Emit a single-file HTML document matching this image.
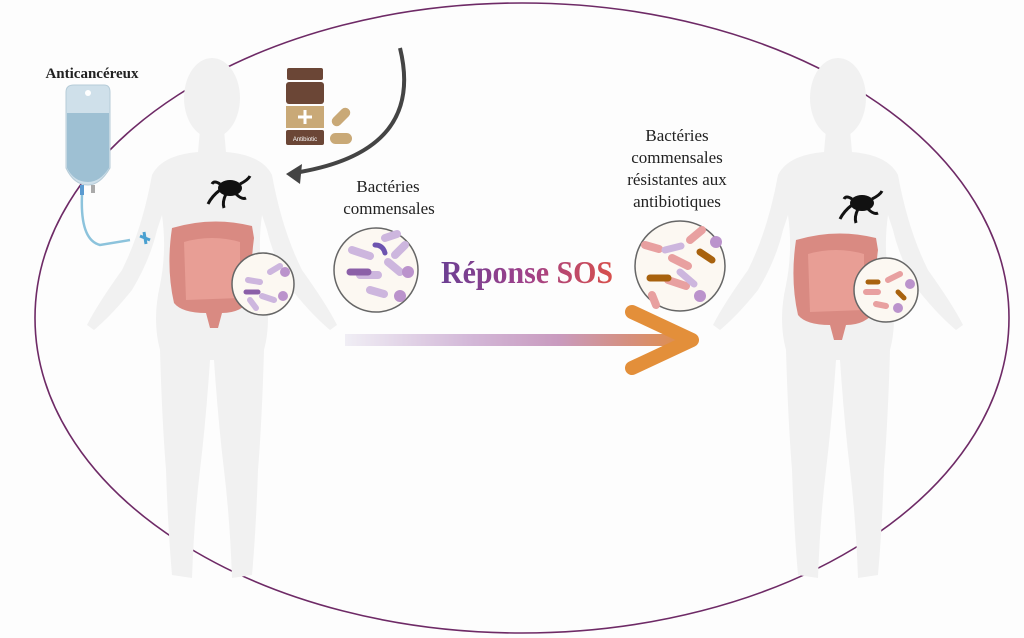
<!DOCTYPE html>
<html><head><meta charset="utf-8"><style>
html,body{margin:0;padding:0;background:#fdfdfd;}
svg{display:block;}
</style></head><body>
<svg width="1024" height="638" viewBox="0 0 1024 638" xmlns="http://www.w3.org/2000/svg">
<defs>
<linearGradient id="ag" x1="345" y1="0" x2="700" y2="0" gradientUnits="userSpaceOnUse">
<stop offset="0" stop-color="#f0eef5"/><stop offset="0.35" stop-color="#d3b8d8"/><stop offset="0.6" stop-color="#c99bbf"/><stop offset="0.8" stop-color="#d58f7e"/><stop offset="1" stop-color="#e38f3a"/>
</linearGradient>
<linearGradient id="tg" x1="440" y1="0" x2="615" y2="0" gradientUnits="userSpaceOnUse">
<stop offset="0" stop-color="#6b3f93"/><stop offset="0.5" stop-color="#a0418a"/><stop offset="1" stop-color="#d9504a"/>
</linearGradient>
<g id="body" fill="#f1f1f1">
<ellipse cx="0" cy="98" rx="28" ry="40"/>
<path d="M-12 130 L12 130 L14 152 Q50 155 60 175 Q70 230 90 270 Q115 305 125 325 L118 330 Q100 315 80 290 Q62 260 55 230 L50 215 Q45 250 52 285 Q60 320 52 350 Q50 420 46 470 Q44 530 40 575 L20 578 Q18 520 12 470 Q6 420 2 360 L-2 360 Q-6 420 -12 470 Q-18 520 -20 578 L-40 575 Q-44 530 -46 470 Q-50 420 -52 350 Q-60 320 -52 285 Q-45 250 -50 215 L-55 230 Q-62 260 -80 290 Q-100 315 -118 330 L-125 325 Q-115 305 -90 270 Q-70 230 -60 175 Q-50 155 -14 152 Z"/>
</g>
<g id="gut">
<path d="M0 0 Q40 -12 80 -2 L82 10 Q78 40 80 70 Q70 85 50 85 L46 100 L38 100 L34 85 Q10 85 2 75 Q-6 40 0 0Z" fill="#d98a82"/>
<path d="M12 14 Q40 6 68 14 L68 70 L14 72Z" fill="#e89e95"/>
</g>
</defs>
<rect width="1024" height="638" fill="#fdfdfd"/>
<ellipse cx="522" cy="318" rx="487" ry="315" fill="none" stroke="#6e2a66" stroke-width="1.6"/>
<use href="#body" x="212"/>
<use href="#body" x="838"/>
<use href="#gut" x="172" y="228"/>
<use href="#gut" x="796" y="240"/>
<g fill="#111"><ellipse cx="230" cy="188" rx="12" ry="8"/><path d="M220 190 q-8 6 -12 14 M226 194 q-4 8 -2 14 M236 194 q6 6 10 4 M240 184 q8 -4 10 -8 M220 184 q-6 -4 -8 0" stroke="#111" stroke-width="3" fill="none"/></g>
<g fill="#111"><ellipse cx="862" cy="203" rx="12" ry="8"/><path d="M852 205 q-8 6 -12 14 M858 209 q-4 8 -2 14 M868 209 q6 6 10 4 M872 199 q8 -4 10 -8 M852 199 q-6 -4 -8 0" stroke="#111" stroke-width="3" fill="none"/></g>
<g stroke="#666" stroke-width="1.5" fill="#fcf8f2">
<circle cx="263" cy="284" r="31"/><circle cx="376" cy="270" r="42"/><circle cx="680" cy="266" r="45"/><circle cx="886" cy="290" r="32"/>
</g>
<g stroke-linecap="round" fill="none">
<path d="M352 250 l18 6 M385 238 l12 -4 M360 275 l18 0 M388 262 l12 10 M370 290 l14 4 M395 255 l10 -10" stroke="#cdb6de" stroke-width="8"/>
<path d="M350 272 l18 0" stroke="#8b5fa8" stroke-width="7"/>
<path d="M375 245 q8 0 10 8" stroke="#6d54b0" stroke-width="5"/>
<circle cx="408" cy="272" r="6" fill="#bb93cc"/><circle cx="400" cy="296" r="6" fill="#bb93cc"/>
<path d="M248 280 l12 2 M270 272 l10 -6 M262 296 l12 4 M250 300 l6 8" stroke="#cdb6de" stroke-width="6"/>
<path d="M246 292 l12 0" stroke="#8b5fa8" stroke-width="5"/>
<circle cx="285" cy="272" r="5" fill="#bb93cc"/><circle cx="283" cy="296" r="5" fill="#bb93cc"/>
<path d="M645 245 l14 4 M672 258 l16 8 M652 295 l4 10 M690 240 l12 -10 M668 280 l18 6" stroke="#e8a0a0" stroke-width="8"/>
<path d="M650 278 l18 0 M700 252 l12 8" stroke="#a8620e" stroke-width="7"/>
<path d="M665 250 l16 -4 M680 272 l14 12" stroke="#cdb6de" stroke-width="7"/>
<circle cx="716" cy="242" r="6" fill="#bb93cc"/><circle cx="700" cy="296" r="6" fill="#bb93cc"/>
<path d="M866 292 l12 0 M888 280 l12 -6 M876 304 l10 2" stroke="#e8a0a0" stroke-width="6"/>
<path d="M868 282 l10 0" stroke="#a8620e" stroke-width="5"/><path d="M898 292 l6 6" stroke="#a8620e" stroke-width="5"/>
<circle cx="910" cy="284" r="5" fill="#bb93cc"/><circle cx="898" cy="308" r="5" fill="#bb93cc"/>
</g>
<path d="M66 92 Q66 85 74 85 L104 85 Q110 85 110 92 L110 168 Q100 185 88 185 Q74 185 66 168Z" fill="#cfe0ea" stroke="#b6ccd8"/>
<path d="M67 113 L109 113 L109 168 Q100 182 88 182 Q74 182 67 168Z" fill="#9ec0d3"/>
<circle cx="88" cy="93" r="3" fill="#fff"/>
<rect x="80" y="185" width="4" height="10" fill="#5a9ad0"/><rect x="91" y="185" width="4" height="8" fill="#aaa"/>
<path d="M82 195 Q80 240 100 245 L130 240" stroke="#8cc3dc" stroke-width="2.5" fill="none"/>
<path d="M140 236 l10 4 M144 232 l2 12" stroke="#4aa0d0" stroke-width="3"/>
<rect x="287" y="68" width="36" height="12" rx="2" fill="#6b4636"/>
<rect x="286" y="82" width="38" height="22" rx="3" fill="#6b4636"/>
<rect x="286" y="106" width="38" height="22" fill="#c9a977"/>
<path d="M305 110 v14 M298 117 h14" stroke="#fff" stroke-width="3"/>
<rect x="286" y="130" width="38" height="15" rx="2" fill="#6b4636"/>
<text x="305" y="141" font-family="Liberation Sans,sans-serif" font-size="6" fill="#fff" text-anchor="middle">Antibiotic</text>
<rect x="330" y="112" width="22" height="10" rx="5" fill="#c9a977" transform="rotate(-45 341 117)"/>
<rect x="330" y="133" width="22" height="11" rx="5.5" fill="#c9a977"/>
<path d="M400 48 Q425 150 300 172" stroke="#444" stroke-width="4" fill="none"/>
<path d="M286 174 L302 164 L300 184Z" fill="#444"/>
<rect x="345" y="334" width="346" height="12" fill="url(#ag)"/>
<path d="M632 312 L692 340 L632 368" stroke="#e38f3a" stroke-width="14" stroke-linecap="round" stroke-linejoin="round" fill="none"/>
<g font-family="Liberation Serif,serif" fill="#222" text-anchor="middle">
<text x="92" y="78" font-size="15" font-weight="bold">Anticancéreux</text>
<text x="388" y="192" font-size="17">Bactéries</text>
<text x="389" y="214" font-size="17">commensales</text>
<text x="677" y="141" font-size="17">Bactéries</text>
<text x="677" y="163" font-size="17">commensales</text>
<text x="677" y="185" font-size="17">résistantes aux</text>
<text x="677" y="207" font-size="17">antibiotiques</text>
</g>
<text x="527" y="283" font-family="Liberation Serif,serif" font-size="32" font-weight="bold" fill="url(#tg)" text-anchor="middle" textLength="172" lengthAdjust="spacingAndGlyphs">Réponse SOS</text>
</svg>
</body></html>
